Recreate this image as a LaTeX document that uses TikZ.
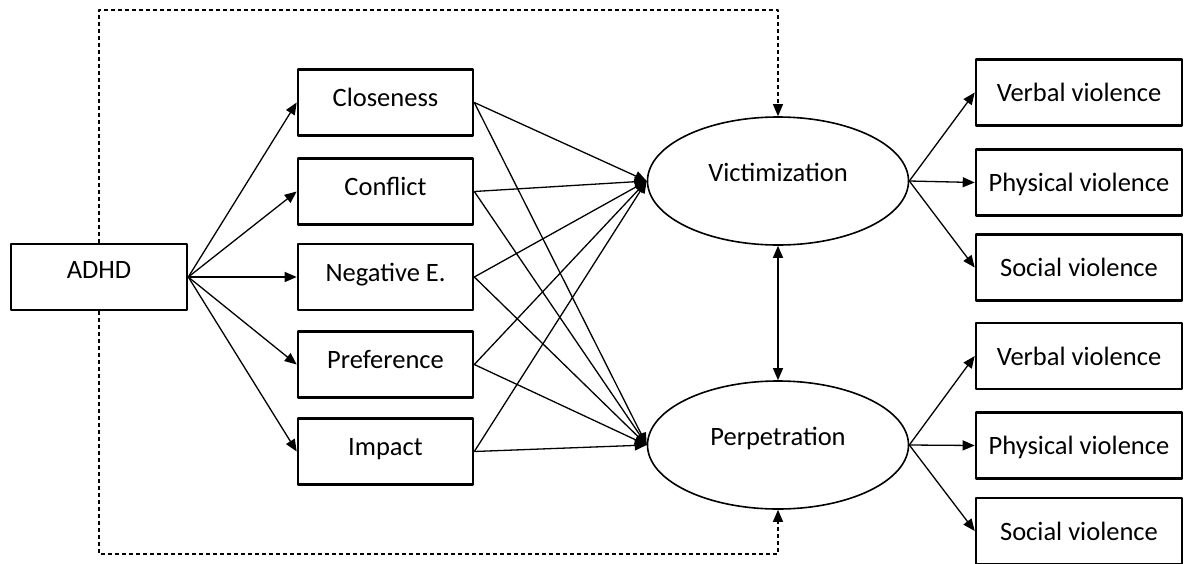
\documentclass[tikz,border=0pt]{standalone}
\usepackage{fontspec}
\setmainfont{Carlito}
\usetikzlibrary{shapes.geometric,arrows.meta}

\begin{document}
\begin{tikzpicture}[x=1pt,y=-1pt,>={Triangle[length=12pt,width=10pt]},line join=bevel,
  every node/.style={font=\fontsize{26.5}{30}\selectfont},
  box/.style={draw,line width=2.6pt,minimum width=176pt,minimum height=66pt,inner sep=0pt,text depth=10pt},
  outbox/.style={box,minimum width=206pt,text depth=0pt},
  latent/.style={draw,ellipse,line width=1.6pt,minimum width=261pt,minimum height=128pt,inner sep=0pt,text depth=18pt},
  path/.style={->,line width=1.3pt},
  direct/.style={->,line width=1.2pt,dash pattern=on 4pt off 3pt}]
\useasboundingbox (0,0) rectangle (1192,563);
%%
\node (adhd) at (99,277) [box,text depth=14pt] {ADHD};
  \node (close) at (385.5,102.5) [box,minimum width=175pt] {Closeness};
  \node (confl) at (385.5,191.5) [box,minimum width=175pt] {Conflict};
  \node (nege) at (385.5,277) [box,minimum width=175pt] {Negative E.};
  \node (pref) at (385.5,364.5) [box,minimum width=175pt] {Preference};
  \node (impact) at (385.5,451.5) [box,minimum width=175pt] {Impact};
  \node (vict) at (778,181) [latent] {Victimization};
  \node (perp) at (778,445) [latent] {Perpetration};
  \node (vverb) at (1079,92.5) [outbox] {Verbal violence};
  \node (vphys) at (1079,182.5) [outbox] {Physical violence};
  \node (vsoc) at (1079,267.5) [outbox] {Social violence};
  \node (pverb) at (1079,356) [outbox] {Verbal violence};
  \node (pphys) at (1079,445.5) [outbox] {Physical violence};
  \node (psoc) at (1079,531) [outbox] {Social violence};
  \foreach \m in {close,confl,nege,pref,impact} {
    \draw [path] (adhd.east) -- (\m.west);
    \draw [path] (\m.east) -- (vict.west);
    \draw [path] (\m.east) -- (perp.west);
  }
  \draw [path] (vict.east) -- (vverb.west);
  \draw [path] (vict.east) -- (vphys.west);
  \draw [path] (vict.east) -- (vsoc.west);
  \draw [path] (perp.east) -- (pverb.west);
  \draw [path] (perp.east) -- (pphys.west);
  \draw [path] (perp.east) -- (psoc.west);
  \draw [path,<->] (vict.south) -- (perp.north);
  \draw [direct] (adhd.north) -- (adhd.north |- 0,10) -| (vict.north);
  \draw [direct] (adhd.south) -- (adhd.south |- 0,554) -| (perp.south);
%
\end{tikzpicture}
\end{document}
